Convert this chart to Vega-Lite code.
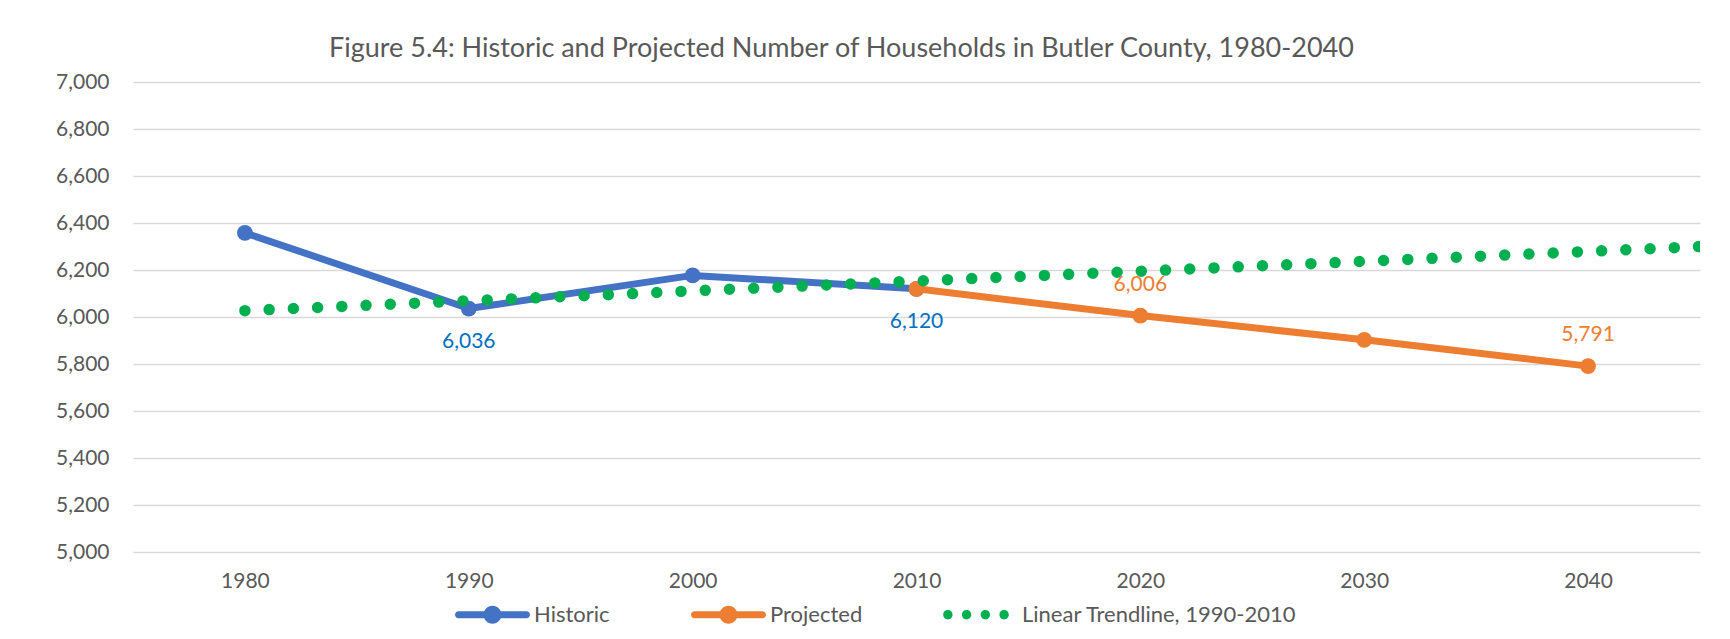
{
  "$schema": "https://vega.github.io/schema/vega-lite/v6.json",
  "autosize": {"type": "none"},
  "width": 1567,
  "height": 470,
  "padding": {"left": 133, "top": 82, "right": 30, "bottom": 87},
  "background": "white",
  "config": {
    "font": "Lato",
    "view": {"stroke": null},
    "axis": {"labelFont": "Lato", "labelFontSize": 21, "labelColor": "#595959", "domain": false, "ticks": false, "title": null, "gridColor": "#D9D9D9", "gridWidth": 1.5}
  },
  "title": {
    "text": "Figure 5.4: Historic and Projected Number of Households in Butler County, 1980-2040",
    "anchor": "start",
    "frame": "group",
    "dx": 196,
    "dy": 38,
    "offset": 25,
    "baseline": "alphabetic",
    "font": "Lato",
    "fontSize": 27,
    "fontWeight": "normal",
    "color": "#595959"
  },
  "data": {
    "values": [
      {"year": 1980, "value": 6358, "series": "Historic"},
      {"year": 1990, "value": 6036, "series": "Historic"},
      {"year": 2000, "value": 6177, "series": "Historic"},
      {"year": 2010, "value": 6120, "series": "Historic"},
      {"year": 2010, "value": 6120, "series": "Projected"},
      {"year": 2020, "value": 6006, "series": "Projected"},
      {"year": 2030, "value": 5903, "series": "Projected"},
      {"year": 2040, "value": 5791, "series": "Projected"},
      {"year": 1980, "value": 6027, "series": "Linear Trendline, 1990-2010"},
      {"year": 2045, "value": 6300, "series": "Linear Trendline, 1990-2010"}
    ]
  },
  "encoding": {
    "x": {"field": "year", "type": "quantitative", "scale": {"domain": [1975, 2045], "nice": false, "zero": false},
      "axis": {"values": [1980, 1990, 2000, 2010, 2020, 2030, 2040], "format": "d", "grid": false, "labelPadding": 18}},
    "y": {"field": "value", "type": "quantitative", "scale": {"domain": [5000, 7000], "nice": false, "zero": false},
      "axis": {"values": [5000, 5200, 5400, 5600, 5800, 6000, 6200, 6400, 6600, 6800, 7000], "format": ",d", "grid": true, "labelPadding": 24}}
  },
  "layer": [
    {
      "transform": [{"filter": "datum.series == 'Historic'"}],
      "mark": {"type": "line", "color": "#4472C4", "strokeWidth": 7, "strokeJoin": "round", "strokeCap": "round"}
    },
    {
      "transform": [{"filter": "datum.series == 'Historic'"}],
      "mark": {"type": "point", "filled": true, "opacity": 1, "color": "#4472C4", "size": 250}
    },
    {
      "transform": [{"filter": "datum.series == 'Projected'"}],
      "mark": {"type": "line", "color": "#ED7D31", "strokeWidth": 7, "strokeJoin": "round", "strokeCap": "round"}
    },
    {
      "transform": [{"filter": "datum.series == 'Projected'"}],
      "mark": {"type": "point", "filled": true, "opacity": 1, "color": "#ED7D31", "size": 250}
    },
    {
      "transform": [{"filter": "datum.series == 'Linear Trendline, 1990-2010'"}],
      "mark": {"type": "line", "color": "#00B050", "strokeWidth": 11.5, "strokeCap": "round", "strokeDash": [0, 24.25], "clip": true}
    },
    {
      "transform": [{"filter": "datum.series == 'Historic' && (datum.year == 1990 || datum.year == 2010)"}],
      "mark": {"type": "text", "dy": 33, "color": "#0070C0", "fontSize": 21, "font": "Lato"},
      "encoding": {"text": {"field": "value", "type": "quantitative", "format": ",d"}}
    },
    {
      "transform": [{"filter": "datum.series == 'Projected' && (datum.year == 2020 || datum.year == 2040)"}],
      "mark": {"type": "text", "dy": -31, "color": "#ED7D31", "fontSize": 21, "font": "Lato"},
      "encoding": {"text": {"field": "value", "type": "quantitative", "format": ",d"}}
    },
    {
      "transform": [{"filter": "datum.year < 0"}],
      "mark": {"type": "point", "filled": true, "opacity": 1},
      "encoding": {
        "color": {"field": "series", "type": "nominal",
          "scale": {"domain": ["Historic", "Projected", "Linear Trendline, 1990-2010"], "range": ["#4472C4", "#ED7D31", "#00B050"]},
          "legend": {"orient": "none", "legendX": 322, "legendY": 495, "direction": "horizontal", "title": null,
            "symbolSize": 5625, "symbolStrokeWidth": 0, "symbolOpacity": 1, "labelOffset": 4, "columnPadding": 80,
            "labelFont": "Lato", "labelFontSize": 22, "labelColor": "#595959", "labelLimit": 500, "padding": 0}},
        "shape": {"field": "series", "type": "nominal",
          "scale": {"domain": ["Historic", "Projected", "Linear Trendline, 1990-2010"],
            "range": [
              "M -0.907 -0.093 L 0.907 -0.093 A 0.093 0.093 0 0 1 0.907 0.093 L -0.907 0.093 A 0.093 0.093 0 0 1 -0.907 -0.093 Z M 0.24 0 A 0.24 0.24 0 1 1 -0.24 0 A 0.24 0.24 0 1 1 0.24 0 Z",
              "M -0.907 -0.093 L 0.907 -0.093 A 0.093 0.093 0 0 1 0.907 0.093 L -0.907 0.093 A 0.093 0.093 0 0 1 -0.907 -0.093 Z M 0.24 0 A 0.24 0.24 0 1 1 -0.24 0 A 0.24 0.24 0 1 1 0.24 0 Z",
              "M -0.745 0 A 0.125 0.125 0 1 1 -0.995 0 A 0.125 0.125 0 1 1 -0.745 0 Z M -0.245 0 A 0.125 0.125 0 1 1 -0.495 0 A 0.125 0.125 0 1 1 -0.245 0 Z M 0.255 0 A 0.125 0.125 0 1 1 0.005 0 A 0.125 0.125 0 1 1 0.255 0 Z M 0.755 0 A 0.125 0.125 0 1 1 0.505 0 A 0.125 0.125 0 1 1 0.755 0 Z"
            ]},
          "legend": null}
      }
    }
  ]
}
